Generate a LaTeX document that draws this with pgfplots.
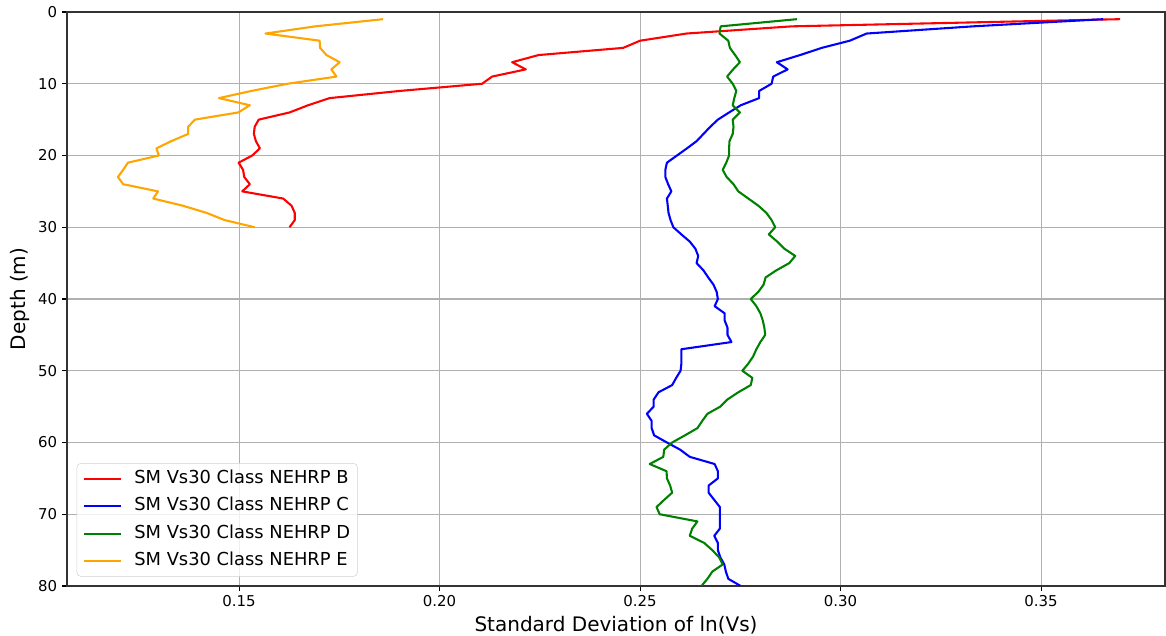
\documentclass[border=0pt]{standalone}
\usepackage{fontspec}
\setmainfont{DejaVu Sans}
\usepackage{pgfplots}
\pgfplotsset{compat=1.18}
\definecolor{cB}{HTML}{FF0000}
\definecolor{cC}{HTML}{0000FF}
\definecolor{cD}{HTML}{008000}
\definecolor{cE}{HTML}{FFA500}
\definecolor{gridc}{HTML}{B0B0B0}
\begin{document}
\begin{tikzpicture}
\begin{axis}[
  name=ax,
  scale only axis,
  width=823.5pt, height=430.5pt,
  xmin=0.1071, xmax=0.3809,
  ymin=0, ymax=80,
  y dir=reverse,
  xtick={0.15,0.20,0.25,0.30,0.35},
  xticklabels={0.15,0.20,0.25,0.30,0.35},
  ytick={0,10,20,30,40,50,60,70,80},
  tick align=outside,
  major tick length=3.8pt,
  tick style={line width=0.8pt, black},
  xtick pos=bottom, ytick pos=left,
  axis line style={line width=0.8pt, black!80},
  grid=major,
  major grid style={line width=0.8pt, gridc},
  tick label style={font=\fontsize{11.2}{13}\selectfont},
  /pgf/number format/assume math mode=true,
  xlabel={Standard Deviation of ln(Vs)},
  ylabel={Depth (m)},
  label style={font=\fontsize{15}{18}\selectfont},
  x label style={at={([yshift=-29.25pt]axis description cs:0.5,0)}, anchor=center},
  y label style={at={([xshift=-35.25pt]axis description cs:0,0.5)}, anchor=center},
  legend cell align=left,
  legend style={at={(0.0088,0.0162)}, anchor=south west,
    draw=black!18, rounded corners=3pt, fill=white, fill opacity=0.8, text opacity=1,
    font=\fontsize{13.4}{16}\selectfont,
    inner xsep=4.5pt, inner ysep=5pt, row sep=7.6pt, column sep=8.5pt,
    nodes={inner xsep=1pt, inner ysep=0pt, text height=10pt, text depth=3pt}},
  legend image code/.code={\draw[#1, line width=1.56pt] (0pt,0pt) -- (27.5pt,0pt);},
  every axis plot/.append style={line width=1.56pt, line join=round},
]
\addplot[cB] coordinates {
(0.3697,1) (0.2878,2) (0.2616,3) (0.2500,4) (0.2458,5) (0.2247,6) (0.2181,7) (0.2215,8)
(0.2131,9) (0.2106,10) (0.1901,11) (0.1726,12) (0.1672,13) (0.1626,14) (0.1549,15)
(0.1539,16) (0.1537,17) (0.1542,18) (0.1552,19) (0.1533,20) (0.1499,21) (0.1510,22)
(0.1513,23) (0.1527,24) (0.1508,25) (0.1610,26) (0.1631,27) (0.1639,28) (0.1639,29) (0.1626,30)
};
\addlegendentry{SM Vs30 Class NEHRP B}
\addplot[cC] coordinates {
(0.3655,1) (0.3330,2) (0.3065,3) (0.3023,4) (0.2953,5) (0.2899,6) (0.2841,7) (0.2868,8)
(0.2832,9) (0.2828,10) (0.2797,11) (0.2797,12) (0.2751,13) (0.2722,14) (0.2694,15)
(0.2675,16) (0.2658,17) (0.2641,18) (0.2617,19) (0.2592,20) (0.2567,21) (0.2563,22)
(0.2563,23) (0.2570,24) (0.2578,25) (0.2567,26) (0.2569,27) (0.2571,28) (0.2576,29)
(0.2583,30) (0.2603,31) (0.2624,32) (0.2638,33) (0.2645,34) (0.2641,35) (0.2658,36)
(0.2670,37) (0.2683,38) (0.2691,39) (0.2694,40) (0.2686,41) (0.2711,42) (0.2711,43)
(0.2718,44) (0.2718,45) (0.2728,46) (0.2603,47) (0.2603,48) (0.2603,49) (0.2601,50)
(0.2590,51) (0.2580,52) (0.2546,53) (0.2534,54) (0.2534,55) (0.2517,56) (0.2529,57)
(0.2529,58) (0.2535,59) (0.2567,60) (0.2600,61) (0.2624,62) (0.2686,63) (0.2694,64)
(0.2694,65) (0.2671,66) (0.2671,67) (0.2685,68) (0.2699,69) (0.2699,70) (0.2699,71)
(0.2699,72) (0.2685,73) (0.2694,74) (0.2694,75) (0.2700,76) (0.2710,77) (0.2714,78)
(0.2720,79) (0.2751,80)
};
\addlegendentry{SM Vs30 Class NEHRP C}
\addplot[cD] coordinates {
(0.2891,1) (0.2701,2) (0.2698,3) (0.2720,4) (0.2724,5) (0.2737,6) (0.2749,7) (0.2732,8)
(0.2717,9) (0.2731,10) (0.2740,11) (0.2735,12) (0.2731,13) (0.2749,14) (0.2731,15)
(0.2733,16) (0.2731,17) (0.2723,18) (0.2722,19) (0.2722,20) (0.2715,21) (0.2706,22)
(0.2716,23) (0.2733,24) (0.2745,25) (0.2770,26) (0.2795,27) (0.2815,28) (0.2828,29)
(0.2837,30) (0.2821,31) (0.2842,32) (0.2860,33) (0.2887,34) (0.2872,35) (0.2840,36)
(0.2813,37) (0.2808,38) (0.2795,39) (0.2776,40) (0.2790,41) (0.2800,42) (0.2806,43)
(0.2810,44) (0.2812,45) (0.2800,46) (0.2790,47) (0.2782,48) (0.2770,49) (0.2755,50)
(0.2780,51) (0.2776,52) (0.2745,53) (0.2718,54) (0.2700,55) (0.2668,56) (0.2655,57)
(0.2643,58) (0.2612,59) (0.2580,60) (0.2560,61) (0.2558,62) (0.2524,63) (0.2566,64)
(0.2567,65) (0.2575,66) (0.2580,67) (0.2560,68) (0.2541,69) (0.2549,70) (0.2643,71)
(0.2630,72) (0.2624,73) (0.2660,74) (0.2680,75) (0.2697,76) (0.2706,77) (0.2680,78)
(0.2668,79) (0.2653,80)
};
\addlegendentry{SM Vs30 Class NEHRP D}
\addplot[cE] coordinates {
(0.1859,1) (0.1690,2) (0.1566,3) (0.1701,4) (0.1702,5) (0.1718,6) (0.1751,7) (0.1730,8)
(0.1743,9) (0.1621,10) (0.1531,11) (0.1450,12) (0.1527,13) (0.1498,14) (0.1390,15)
(0.1373,16) (0.1373,17) (0.1331,18) (0.1294,19) (0.1300,20) (0.1223,21) (0.1211,22)
(0.1198,23) (0.1211,24) (0.1298,25) (0.1286,26) (0.1360,27) (0.1419,28) (0.1464,29) (0.1539,30)
};
\addlegendentry{SM Vs30 Class NEHRP E}
\end{axis}
\pgfresetboundingbox
\path[use as bounding box] ([xshift=-50.25pt,yshift=-37.5pt]ax.south west) rectangle ([xshift=0.75pt,yshift=9pt]ax.north east);
\end{tikzpicture}
\end{document}
